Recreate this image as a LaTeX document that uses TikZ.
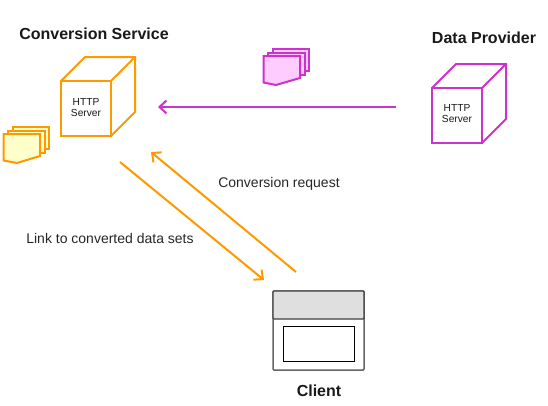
\documentclass[tikz,border=0pt]{standalone}
\usepackage{fontspec}
\setmainfont{Liberation Sans}
\usetikzlibrary{arrows.meta}
\definecolor{svcorange}{HTML}{FF9900}
\definecolor{provpurple}{HTML}{CC33CC}
\definecolor{svcfill}{HTML}{FFFFCC}
\definecolor{provfill}{HTML}{FFCCFF}
\definecolor{headgray}{HTML}{DFDFDF}
\tikzset{
  title/.style={font=\bfseries\fontsize{16}{18}\selectfont, text=black!90},
  label/.style={font=\fontsize{14}{16}\selectfont, text=black!85},
  server/.style={font=\fontsize{10.2}{11.2}\selectfont, align=center, text=black!90},
  cube/.style={line width=2pt, line join=miter},
  sheet/.style={line width=2pt, line join=miter},
  flow/.style={line width=2pt, -{Straight Barb[length=7pt,width=13pt,line width=2pt]}},
}
\begin{document}
\begin{tikzpicture}[x=1pt,y=-1pt]
      \useasboundingbox (0,0) rectangle (548,405);
      % conversion service
      \draw[cube, draw=svcorange] (61,81) rectangle (111,136);
      \draw[cube, draw=svcorange] (61,81) -- (85,57) -- (135,57) -- (135,112) -- (111,136)
                 (111,81) -- (135,57);
      \node[server] (svchttp) at (86,107.5) {HTTP\\Server};
      \node[title] (svctitle) at (94,34) {Conversion Service};
      % data provider
      \draw[cube, draw=provpurple] (432,88) rectangle (482,143);
      \draw[cube, draw=provpurple] (432,88) -- (456,64) -- (506,64) -- (506,119) -- (482,143)
                 (482,88) -- (506,64);
      \node[server] (provhttp) at (457,113.5) {HTTP\\Server};
      \node[title] (provtitle) at (484,38) {Data Provider};
      % orange data sets
      \filldraw[sheet, draw=svcorange, fill=svcfill] (12.5,127) -- (49,127) -- (49,149) -- (12.5,149) -- cycle;
      \filldraw[sheet, draw=svcorange, fill=svcfill] (8,130.5) -- (45,130.5) -- (45,153) -- (8,153) -- cycle;
      \filldraw[sheet, draw=svcorange, fill=svcfill] (3.5,134) -- (40,134) -- (40,156) -- (17,163) -- (3.5,160.5) -- cycle;
      % purple data sets
      \filldraw[sheet, draw=provpurple, fill=provfill] (272.5,49) -- (309,49) -- (309,71) -- (272.5,71) -- cycle;
      \filldraw[sheet, draw=provpurple, fill=provfill] (268,52.5) -- (305,52.5) -- (305,75) -- (268,75) -- cycle;
      \filldraw[sheet, draw=provpurple, fill=provfill] (263.5,56) -- (300,56) -- (300,78) -- (276,85) -- (263.5,82.5) -- cycle;
      % client
      \filldraw[line width=1.5pt, draw=black!60, fill=white, rounded corners=1pt] (273,291) rectangle (364,370);
      \filldraw[line width=1.2pt, draw=black!75, fill=headgray, rounded corners=1pt] (273,291) rectangle (364,319);
      \node[draw=black, line width=1pt, fill=white, minimum width=71pt, minimum height=35pt, inner sep=0pt] (clientbox) at (319,343.5) {};
      \node[title] (clienttitle) at (319,391) {Client};
      % connectors
      \coordinate (provout) at (396,107);
      \coordinate (svcin) at (158,107);
      \coordinate (svcout) at (120,162);
      \coordinate (clientin) at (264,280);
      \coordinate (clientout) at (296,272);
      \coordinate (svcreq) at (151,152);
      \draw[flow, provpurple] (provout) -- (svcin);
      \draw[flow, svcorange] (svcout) -- (clientin);
      \draw[flow, svcorange] (clientout) -- (svcreq);
      \node[label] (reqlabel) at (279,184) {Conversion request};
      \node[label] (linklabel) at (110,238) {Link to converted data sets};
  \end{tikzpicture}
\end{document}
